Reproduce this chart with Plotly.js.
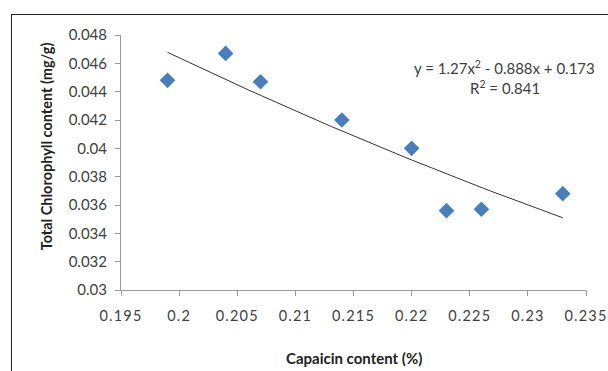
<!DOCTYPE html>
<html><head><meta charset="utf-8">
<script src="https://cdn.plot.ly/plotly-3.0.1.min.js"></script>
<style>
html,body{margin:0;padding:0;background:#fff;overflow:hidden}
#wrap{position:relative;width:608px;height:371px}
#chart{width:608px;height:371px}
#frame{position:absolute;left:11px;top:14px;width:800px;height:600px;border-left:1.5px solid #222;border-top:1.5px solid #222;pointer-events:none}
.xtick text{letter-spacing:1.2px}
</style></head>
<body><div id="wrap"><div id="chart"></div><div id="frame"></div></div>
<script>
const capsaicin = [0.199, 0.204, 0.207, 0.214, 0.220, 0.223, 0.226, 0.233];
const chlorophyll = [0.0448, 0.0467, 0.0447, 0.0420, 0.0400, 0.0356, 0.0357, 0.0368];
const xTicks = [0.195, 0.2, 0.205, 0.21, 0.215, 0.22, 0.225, 0.23, 0.235];
const yTicks = [0.03, 0.032, 0.034, 0.036, 0.038, 0.04, 0.042, 0.044, 0.046, 0.048];
const equationText = 'y = 1.27x<sup>2</sup> - 0.888x + 0.173';
const r2Text = 'R<sup>2</sup> = 0.841';

// quadratic least-squares trendline fitted to the data
function fitQuad(xs, ys){
  let S=[0,0,0,0,0], T=[0,0,0];
  for(let i=0;i<xs.length;i++){
    const x=xs[i], y=ys[i];
    for(let k=0;k<5;k++) S[k]+=Math.pow(x,k);
    for(let k=0;k<3;k++) T[k]+=y*Math.pow(x,k);
  }
  const A=[[S[0],S[1],S[2],T[0]],[S[1],S[2],S[3],T[1]],[S[2],S[3],S[4],T[2]]];
  for(let i=0;i<3;i++){
    let p=i; for(let r=i+1;r<3;r++) if(Math.abs(A[r][i])>Math.abs(A[p][i])) p=r;
    [A[i],A[p]]=[A[p],A[i]];
    for(let r=0;r<3;r++){ if(r===i) continue; const f=A[r][i]/A[i][i]; for(let c=i;c<4;c++) A[r][c]-=f*A[i][c]; }
  }
  return [A[0][3]/A[0][0], A[1][3]/A[1][1], A[2][3]/A[2][2]];
}
const co = fitQuad(capsaicin, chlorophyll);
const xmin = Math.min(...capsaicin), xmax = Math.max(...capsaicin);
const tx=[], ty=[];
for(let i=0;i<=60;i++){ const x = xmin + (xmax-xmin)*i/60; tx.push(x); ty.push(co[0]+co[1]*x+co[2]*x*x); }

const fam = 'Lato, "Open Sans", sans-serif';
const data = [
  {x:tx, y:ty, mode:'lines', line:{color:'#333', width:1}, hoverinfo:'skip', showlegend:false},
  {x:capsaicin, y:chlorophyll, mode:'markers', marker:{symbol:'diamond', size:12, color:'#4A7EBB'}, showlegend:false}
];
const layout = {
  width:608, height:371,
  margin:{l:121, r:22, t:34.5, b:81, pad:0},
  paper_bgcolor:'#fff', plot_bgcolor:'#fff',
  xaxis:{range:[0.195,0.235], tickvals:xTicks, ticktext:xTicks.map(String), showgrid:false, zeroline:false,
    showline:true, linecolor:'#9a9a9a', linewidth:1, ticks:'outside', ticklen:5, tickcolor:'#9a9a9a',
    ticklabelstandoff:8, tickfont:{family:fam, size:14.5, color:'#404040'}},
  yaxis:{range:[0.03,0.048], tickvals:yTicks, ticktext:yTicks.map(String), showgrid:false, zeroline:false,
    showline:true, linecolor:'#9a9a9a', linewidth:1, ticks:'outside', ticklen:5, tickcolor:'#9a9a9a',
    ticklabelstandoff:5, tickfont:{family:fam, size:15, color:'#404040'}},
  annotations:[
    {xref:'paper', yref:'paper', x:(354-121)/465, y:(290-358)/255.5, text:'<b>Capaicin content (%)</b>', showarrow:false,
      font:{family:fam, size:15, color:'#222'}, xanchor:'center', yanchor:'middle'},
    {xref:'paper', yref:'paper', x:(46-121)/465, y:(290-146)/255.5, text:'<b>Total Chlorophyll content (mg/g)</b>', showarrow:false, textangle:-90,
      font:{family:fam, size:14.5, color:'#222'}, xanchor:'center', yanchor:'middle'},
    {xref:'paper', yref:'paper', x:(504-121)/465, y:(290-67)/255.5, text:equationText, showarrow:false,
      font:{family:fam, size:15, color:'#404040'}, xanchor:'center', yanchor:'middle'},
    {xref:'paper', yref:'paper', x:(505-121)/465, y:(290-87)/255.5, text:r2Text, showarrow:false,
      font:{family:fam, size:15, color:'#404040'}, xanchor:'center', yanchor:'middle'}
  ]
};
Plotly.newPlot('chart', data, layout, {displayModeBar:false, staticPlot:true});
</script></body></html>
